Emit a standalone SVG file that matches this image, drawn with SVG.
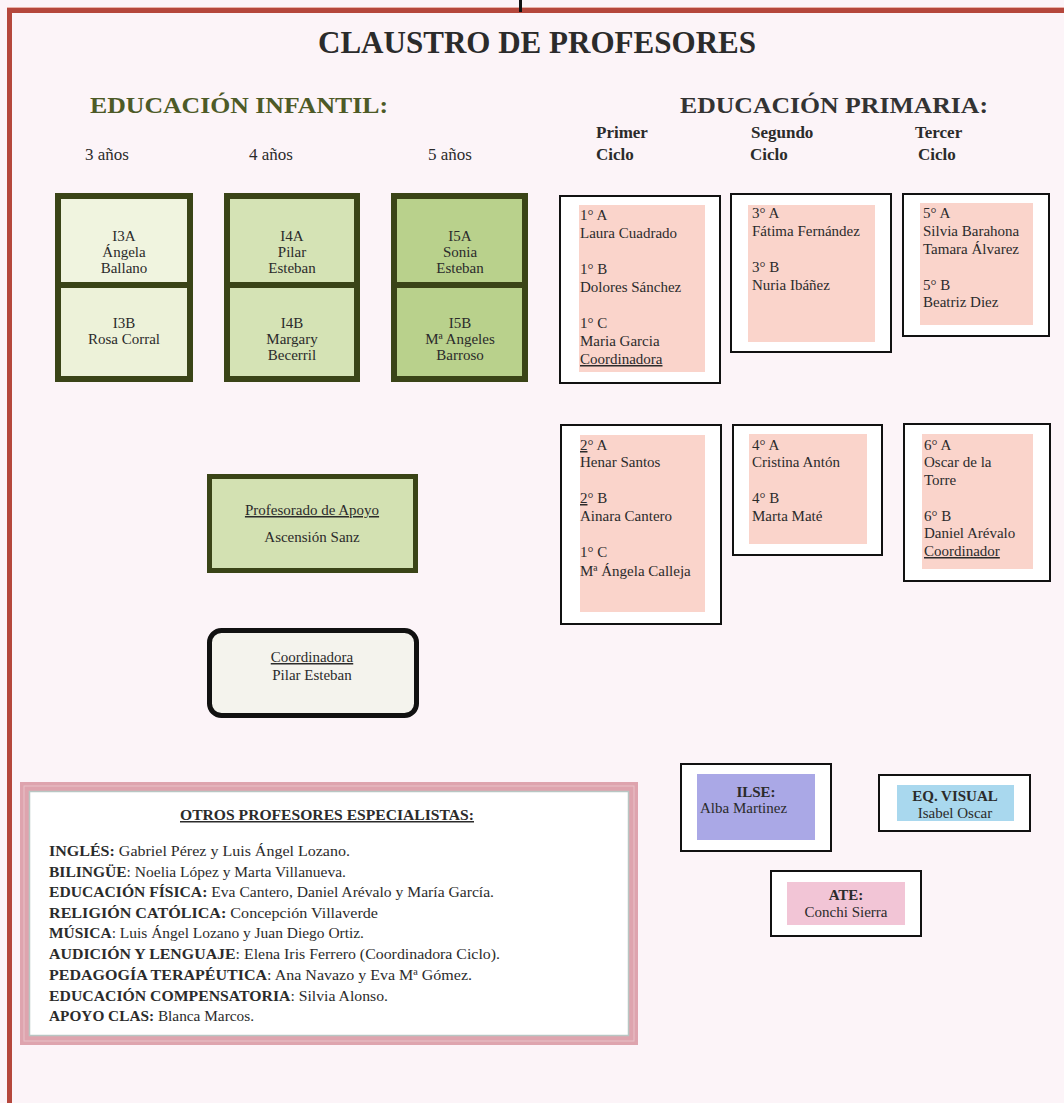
<svg xmlns="http://www.w3.org/2000/svg" width="1064" height="1103" viewBox="0 0 1064 1103">
<style>
text{font-family:"Liberation Serif","Times New Roman",serif;fill:#2b2b2b;}
.t15{font-size:15px;}
.lbl{font-size:17px;}
.hdr{font-size:17px;font-weight:bold;}
.b{font-weight:bold;}
.u{text-decoration:underline;}
.mid{text-anchor:middle;}
.inf{stroke:#3a4417;stroke-width:6;}
.pout{fill:#ffffff;stroke:#111;stroke-width:2;}
.pin{fill:#fad4cb;}
.sout{fill:#ffffff;stroke:#111;stroke-width:2;}
</style>
<rect x="0" y="0" width="1064" height="1103" fill="#fcf4f8"/>
<g id="frame">
<rect x="7" y="7" width="1057" height="1.5" fill="#e9b1a8"/>
<rect x="7" y="8" width="1057" height="5" fill="#b5473c"/>
<rect x="7" y="8" width="5" height="1095" fill="#b5473c"/>
<rect x="519" y="0" width="3" height="12" fill="#111"/>
</g>
<g id="titles">
<text x="537" y="53" class="b mid" style="font-size:32px" textLength="438" lengthAdjust="spacingAndGlyphs">CLAUSTRO DE PROFESORES</text>
<text x="90" y="113" class="b" style="font-size:24px;fill:#4d5a27" textLength="298" lengthAdjust="spacingAndGlyphs">EDUCACIÓN INFANTIL:</text>
<text x="680" y="113" class="b" style="font-size:24px;fill:#333" textLength="308" lengthAdjust="spacingAndGlyphs">EDUCACIÓN PRIMARIA:</text>
<text x="85" y="160" class="lbl">3 años</text>
<text x="249" y="160" class="lbl">4 años</text>
<text x="428" y="160" class="lbl">5 años</text>
<text x="596" y="138" class="hdr">Primer</text>
<text x="596" y="160" class="hdr">Ciclo</text>
<text x="751" y="138" class="hdr">Segundo</text>
<text x="750" y="160" class="hdr">Ciclo</text>
<text x="915" y="138" class="hdr">Tercer</text>
<text x="918" y="160" class="hdr">Ciclo</text>
</g>
<g id="infantil-3">
<rect x="58" y="196" width="132" height="89" fill="#f0f4df"/>
<rect x="58" y="285" width="132" height="94" fill="#edf2d9"/>
<rect x="58" y="196" width="132" height="183" fill="none" class="inf"/>
<line x1="58" y1="285" x2="190" y2="285" class="inf"/>
<text x="124" y="241" class="t15 mid">I3A</text>
<text x="124" y="257" class="t15 mid">Ángela</text>
<text x="124" y="273" class="t15 mid">Ballano</text>
<text x="124" y="328" class="t15 mid">I3B</text>
<text x="124" y="344" class="t15 mid">Rosa Corral</text>
</g>
<g id="infantil-4">
<rect x="227" y="196" width="130" height="183" fill="#d5e3b5" class="inf"/>
<line x1="227" y1="285" x2="357" y2="285" class="inf"/>
<text x="292" y="241" class="t15 mid">I4A</text>
<text x="292" y="257" class="t15 mid">Pilar</text>
<text x="292" y="273" class="t15 mid">Esteban</text>
<text x="292" y="328" class="t15 mid">I4B</text>
<text x="292" y="344" class="t15 mid">Margary</text>
<text x="292" y="360" class="t15 mid">Becerril</text>
</g>
<g id="infantil-5">
<rect x="394" y="196" width="131" height="183" fill="#b9d18c" class="inf"/>
<line x1="394" y1="285" x2="525" y2="285" class="inf"/>
<text x="460" y="241" class="t15 mid">I5A</text>
<text x="460" y="257" class="t15 mid">Sonia</text>
<text x="460" y="273" class="t15 mid">Esteban</text>
<text x="460" y="328" class="t15 mid">I5B</text>
<text x="460" y="344" class="t15 mid">Mª Angeles</text>
<text x="460" y="360" class="t15 mid">Barroso</text>
</g>
<g id="apoyo">
<rect x="209.5" y="476.5" width="206" height="94" fill="#d3e1b2" stroke="#3a4417" stroke-width="5"/>
<text x="312" y="515" class="t15 mid u">Profesorado de Apoyo</text>
<text x="312" y="542" class="t15 mid">Ascensión Sanz</text>
</g>
<g id="coordinadora-infantil">
<rect x="209.5" y="630.5" width="207" height="85" rx="12" fill="#f4f3ed" stroke="#111" stroke-width="5"/>
<text x="312" y="662" class="t15 mid u">Coordinadora</text>
<text x="312" y="680" class="t15 mid">Pilar Esteban</text>
</g>
<g id="primer-ciclo-1">
<rect x="560" y="196" width="160" height="187" class="pout"/>
<rect x="579" y="205" width="126" height="167" class="pin"/>
<text x="580" y="220" class="t15">1° A</text>
<text x="580" y="238" class="t15">Laura Cuadrado</text>
<text x="580" y="274" class="t15">1° B</text>
<text x="580" y="292" class="t15">Dolores Sánchez</text>
<text x="580" y="328" class="t15">1° C</text>
<text x="580" y="346" class="t15">Maria Garcia</text>
<text x="580" y="364" class="t15 u">Coordinadora</text>
</g>
<g id="segundo-ciclo-3">
<rect x="731" y="194" width="160" height="158" class="pout"/>
<rect x="748" y="205" width="127" height="137" class="pin"/>
<text x="752" y="218" class="t15">3° A</text>
<text x="752" y="236" class="t15">Fátima Fernández</text>
<text x="752" y="272" class="t15">3° B</text>
<text x="752" y="290" class="t15">Nuria Ibáñez</text>
</g>
<g id="tercer-ciclo-5">
<rect x="903" y="194" width="146" height="142" class="pout"/>
<rect x="920" y="203" width="113" height="122" class="pin"/>
<text x="923" y="218" class="t15">5° A</text>
<text x="923" y="236" class="t15">Silvia Barahona</text>
<text x="923" y="254" class="t15">Tamara Álvarez</text>
<text x="923" y="290" class="t15">5° B</text>
<text x="923" y="307" class="t15">Beatriz Diez</text>
</g>
<g id="primer-ciclo-2">
<rect x="561" y="425" width="160" height="199" class="pout"/>
<rect x="580" y="435" width="125" height="177" class="pin"/>
<text x="580" y="450" class="t15"><tspan class="u">2</tspan>° A</text>
<text x="580" y="467" class="t15">Henar Santos</text>
<text x="580" y="503" class="t15"><tspan class="u">2</tspan>° B</text>
<text x="580" y="521" class="t15">Ainara Cantero</text>
<text x="580" y="557" class="t15">1° C</text>
<text x="580" y="576" class="t15">Mª Ángela Calleja</text>
</g>
<g id="segundo-ciclo-4">
<rect x="733" y="425" width="149" height="130" class="pout"/>
<rect x="749" y="434" width="118" height="110" class="pin"/>
<text x="752" y="467" class="t15" dy="-17">4° A</text>
<text x="752" y="467" class="t15">Cristina Antón</text>
<text x="752" y="503" class="t15">4° B</text>
<text x="752" y="521" class="t15">Marta Maté</text>
</g>
<g id="tercer-ciclo-6">
<rect x="904" y="424" width="146" height="157" class="pout"/>
<rect x="922" y="434" width="111" height="135" class="pin"/>
<text x="924" y="450" class="t15">6° A</text>
<text x="924" y="467" class="t15">Oscar de la</text>
<text x="924" y="485" class="t15">Torre</text>
<text x="924" y="521" class="t15">6° B</text>
<text x="924" y="538" class="t15">Daniel Arévalo</text>
<text x="924" y="556" class="t15 u">Coordinador</text>
</g>
<g id="otros-especialistas">
<rect x="20" y="782" width="618" height="263" fill="#dea4ae"/>
<rect x="24" y="786" width="610" height="255" fill="none" stroke="#e8c2c8" stroke-width="1"/>
<rect x="29.5" y="791.5" width="599" height="244" fill="#ffffff" stroke="#b8c6c3" stroke-width="1.5"/>
<text x="327" y="820" class="t15 b mid u" textLength="294" lengthAdjust="spacingAndGlyphs">OTROS PROFESORES ESPECIALISTAS:</text>
<text x="49" y="856" class="t15" textLength="301" lengthAdjust="spacingAndGlyphs"><tspan class="b">INGLÉS:</tspan>  Gabriel  Pérez y Luis Ángel Lozano.</text>
<text x="49" y="877" class="t15" textLength="297" lengthAdjust="spacingAndGlyphs"><tspan class="b">BILINGÜE</tspan>: Noelia López y Marta Villanueva.</text>
<text x="49" y="897" class="t15" textLength="445" lengthAdjust="spacingAndGlyphs"><tspan class="b">EDUCACIÓN FÍSICA:</tspan>  Eva Cantero, Daniel Arévalo y María García.</text>
<text x="49" y="918" class="t15" textLength="329" lengthAdjust="spacingAndGlyphs"><tspan class="b">RELIGIÓN CATÓLICA:</tspan>  Concepción Villaverde</text>
<text x="49" y="938" class="t15" textLength="315" lengthAdjust="spacingAndGlyphs"><tspan class="b">MÚSICA</tspan>: Luis Ángel Lozano y Juan Diego Ortiz.</text>
<text x="49" y="959" class="t15" textLength="451" lengthAdjust="spacingAndGlyphs"><tspan class="b">AUDICIÓN  Y LENGUAJE</tspan>:  Elena Iris Ferrero (Coordinadora Ciclo).</text>
<text x="49" y="980" class="t15" textLength="423" lengthAdjust="spacingAndGlyphs"><tspan class="b">PEDAGOGÍA TERAPÉUTICA</tspan>:  Ana Navazo y  Eva Mª Gómez.</text>
<text x="49" y="1001" class="t15" textLength="339" lengthAdjust="spacingAndGlyphs"><tspan class="b">EDUCACIÓN COMPENSATORIA</tspan>:  Silvia Alonso.</text>
<text x="49" y="1021" class="t15" textLength="205" lengthAdjust="spacingAndGlyphs"><tspan class="b">APOYO CLAS:</tspan> Blanca Marcos.</text>
</g>
<g id="ilse">
<rect x="681" y="764" width="150" height="87" class="sout"/>
<rect x="697" y="774" width="118" height="66" fill="#aaa8e6"/>
<text x="756" y="797" class="t15 b mid">ILSE:</text>
<text x="700" y="813" class="t15">Alba Martinez</text>
</g>
<g id="eq-visual">
<rect x="879" y="775" width="151" height="56" class="sout"/>
<rect x="897" y="785" width="117" height="36" fill="#a9d8ee"/>
<text x="955" y="801" class="t15 b mid">EQ. VISUAL</text>
<text x="955" y="818" class="t15 mid">Isabel Oscar</text>
</g>
<g id="ate">
<rect x="771" y="871" width="150" height="65" class="sout"/>
<rect x="787" y="882" width="118" height="43" fill="#f2c5d6"/>
<text x="846" y="900" class="t15 b mid">ATE:</text>
<text x="846" y="917" class="t15 mid">Conchi Sierra</text>
</g>
<g id="connectors"/>
</svg>
